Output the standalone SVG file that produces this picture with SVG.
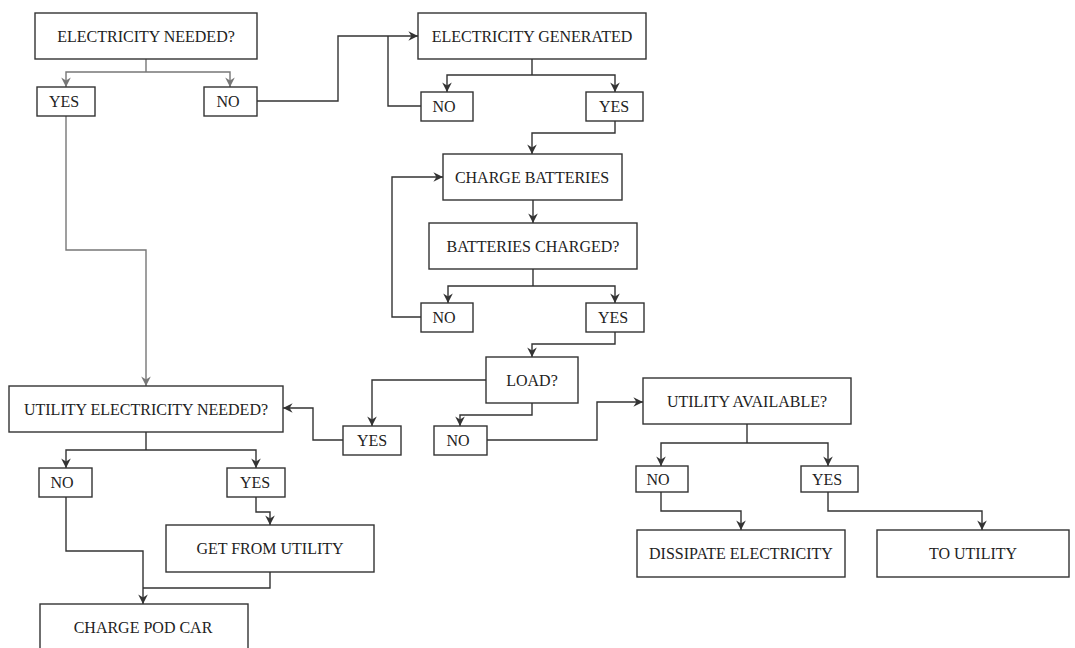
<svg xmlns="http://www.w3.org/2000/svg" width="1075" height="648" viewBox="0 0 1075 648">
  <defs>
    <marker id="arr" viewBox="0 0 10 10" refX="9" refY="5" markerWidth="12" markerHeight="12" markerUnits="userSpaceOnUse" orient="auto">
      <path d="M1,1 L9,5 L1,9 L3.5,5 z" fill="#333"/>
    </marker>
    <marker id="arrg" viewBox="0 0 10 10" refX="9" refY="5" markerWidth="12" markerHeight="12" markerUnits="userSpaceOnUse" orient="auto">
      <path d="M1,1 L9,5 L1,9 L3.5,5 z" fill="#777"/>
    </marker>
  </defs>
  <style>
    .box { fill: #fff; stroke: #333; stroke-width: 1.4; }
    .lbl { font-family: "Liberation Serif", "Times New Roman", serif; font-size: 16px; fill: #222; text-anchor: middle; dominant-baseline: central; }
    .edge { fill: none; stroke: #333; stroke-width: 1.4; marker-end: url(#arr); }
    .edge.grey { stroke: #777; marker-end: url(#arrg); }
    .edge.plain { marker-end: none; }
  </style>
  <rect width="1075" height="648" fill="#fff"/>

  <g id="connectors">
    <!-- ELECTRICITY NEEDED? split -->
    <path class="edge grey plain" d="M146,59 V72"/>
    <path class="edge grey" d="M146,72 H66 V87"/>
    <path class="edge grey" d="M146,72 H230 V87"/>
    <!-- NO -> ELECTRICITY GENERATED -->
    <path class="edge" d="M257,101 H338 V36 H418"/>
    <!-- generated NO loops back -->
    <path class="edge plain" d="M421,106 H388 V36"/>
    <!-- ELECTRICITY GENERATED split -->
    <path class="edge plain" d="M532,59 V75"/>
    <path class="edge" d="M532,75 H447 V92"/>
    <path class="edge" d="M532,75 H615 V92"/>
    <!-- YES -> CHARGE BATTERIES -->
    <path class="edge" d="M615,121 V133 H532 V154"/>
    <!-- CHARGE BATTERIES -> BATTERIES CHARGED? -->
    <path class="edge" d="M533,200 V223"/>
    <!-- BATTERIES CHARGED? split -->
    <path class="edge plain" d="M533,269 V286"/>
    <path class="edge" d="M533,286 H448 V303"/>
    <path class="edge" d="M533,286 H615 V303"/>
    <!-- NO loops to CHARGE BATTERIES -->
    <path class="edge" d="M421,317 H392 V177 H443"/>
    <!-- YES -> LOAD? -->
    <path class="edge" d="M615,332 V344 H532 V357"/>
    <!-- LOAD? -> YES / NO -->
    <path class="edge" d="M486,380 H372 V426"/>
    <path class="edge" d="M532,403 V415 H460 V426"/>
    <!-- load YES -> UTILITY ELECTRICITY NEEDED? -->
    <path class="edge" d="M343,440 H313 V408 H283"/>
    <!-- load NO -> UTILITY AVAILABLE? -->
    <path class="edge" d="M487,440 H597 V402 H643"/>
    <!-- YES (needed) -> UTILITY ELECTRICITY NEEDED? -->
    <path class="edge grey" d="M66,116 V250 H146 V386"/>
    <!-- UTILITY ELECTRICITY NEEDED? split -->
    <path class="edge plain" d="M146,432 V450"/>
    <path class="edge" d="M146,450 H66 V468"/>
    <path class="edge" d="M146,450 H256 V468"/>
    <!-- YES -> GET FROM UTILITY -->
    <path class="edge" d="M256,497 V512 H270 V525"/>
    <!-- NO / GET FROM UTILITY -> CHARGE POD CAR -->
    <path class="edge" d="M66,497 V551 H143 V604"/>
    <path class="edge plain" d="M270,572 V588 H143"/>
    <!-- UTILITY AVAILABLE? split -->
    <path class="edge plain" d="M747,424 V443"/>
    <path class="edge" d="M747,443 H661 V466"/>
    <path class="edge" d="M747,443 H828 V466"/>
    <!-- outcomes -->
    <path class="edge" d="M661,492 V511 H741 V530"/>
    <path class="edge" d="M828,492 V511 H982 V530"/>
  </g>

  <g id="n-electricity-needed"><rect class="box" x="35" y="13" width="222" height="46"/><text class="lbl" x="146" y="36">ELECTRICITY NEEDED?</text></g>
  <g id="n-needed-yes"><rect class="box" x="37" y="87" width="58" height="29"/><text class="lbl" x="64" y="101.5">YES</text></g>
  <g id="n-needed-no"><rect class="box" x="204" y="87" width="53" height="29"/><text class="lbl" x="228" y="101.5">NO</text></g>

  <g id="n-electricity-generated"><rect class="box" x="418" y="13" width="228" height="46"/><text class="lbl" x="532" y="36">ELECTRICITY GENERATED</text></g>
  <g id="n-generated-no"><rect class="box" x="421" y="92" width="52" height="29"/><text class="lbl" x="444" y="106.5">NO</text></g>
  <g id="n-generated-yes"><rect class="box" x="586" y="92" width="57" height="29"/><text class="lbl" x="614" y="106.5">YES</text></g>

  <g id="n-charge-batteries"><rect class="box" x="443" y="154" width="179" height="46"/><text class="lbl" x="532" y="177">CHARGE BATTERIES</text></g>
  <g id="n-batteries-charged"><rect class="box" x="429" y="223" width="208" height="46"/><text class="lbl" x="533" y="246">BATTERIES CHARGED?</text></g>
  <g id="n-charged-no"><rect class="box" x="421" y="303" width="52" height="29"/><text class="lbl" x="444" y="317.5">NO</text></g>
  <g id="n-charged-yes"><rect class="box" x="586" y="303" width="58" height="29"/><text class="lbl" x="613" y="317.5">YES</text></g>

  <g id="n-load"><rect class="box" x="486" y="357" width="92" height="46"/><text class="lbl" x="532" y="380">LOAD?</text></g>
  <g id="n-load-yes"><rect class="box" x="343" y="426" width="58" height="29"/><text class="lbl" x="372" y="440.5">YES</text></g>
  <g id="n-load-no"><rect class="box" x="434" y="426" width="53" height="29"/><text class="lbl" x="458" y="440.5">NO</text></g>

  <g id="n-utility-electricity-needed"><rect class="box" x="9" y="386" width="274" height="46"/><text class="lbl" x="146" y="409">UTILITY ELECTRICITY NEEDED?</text></g>
  <g id="n-utility-no"><rect class="box" x="39" y="468" width="53" height="29"/><text class="lbl" x="62" y="482.5">NO</text></g>
  <g id="n-utility-yes"><rect class="box" x="227" y="468" width="58" height="29"/><text class="lbl" x="255" y="482.5">YES</text></g>
  <g id="n-get-from-utility"><rect class="box" x="166" y="525" width="208" height="47"/><text class="lbl" x="270" y="548.5">GET FROM UTILITY</text></g>
  <g id="n-charge-pod-car"><rect class="box" x="40" y="604" width="208" height="50"/><text class="lbl" x="143" y="627">CHARGE POD CAR</text></g>

  <g id="n-utility-available"><rect class="box" x="643" y="378" width="208" height="46"/><text class="lbl" x="747" y="401">UTILITY AVAILABLE?</text></g>
  <g id="n-available-no"><rect class="box" x="636" y="466" width="52" height="26"/><text class="lbl" x="658" y="479">NO</text></g>
  <g id="n-available-yes"><rect class="box" x="801" y="466" width="57" height="26"/><text class="lbl" x="827" y="479">YES</text></g>
  <g id="n-dissipate"><rect class="box" x="637" y="530" width="208" height="47"/><text class="lbl" x="741" y="553.5">DISSIPATE ELECTRICITY</text></g>
  <g id="n-to-utility"><rect class="box" x="877" y="530" width="192" height="47"/><text class="lbl" x="973" y="553.5">TO UTILITY</text></g>
</svg>
